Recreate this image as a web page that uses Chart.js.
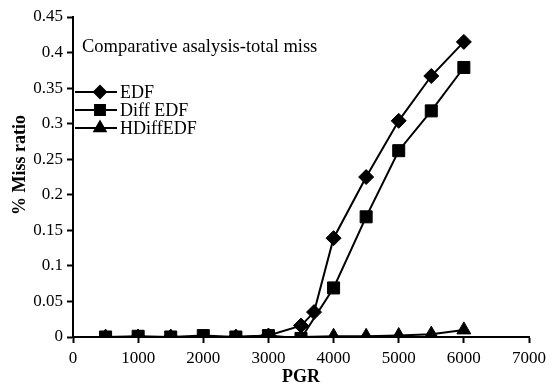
<!DOCTYPE html>
<html>
<head>
<meta charset="utf-8">
<script src="https://cdn.jsdelivr.net/npm/chart.js@4.4.0/dist/chart.umd.min.js"></script>
<style>
  html, body { margin: 0; padding: 0; background: #fff; }
  #wrap { width: 556px; height: 388px; position: relative; }
</style>
</head>
<body>
<div id="wrap"><canvas id="missChart"></canvas></div>
<script>
// values
const chartTitle = 'Comparative asalysis-total miss';
const seriesNames = ['EDF', 'Diff EDF', 'HDiffEDF'];
const xTitle = 'PGR';
const yTitle = '% Miss ratio';

const edfX = [500, 1000, 1500, 2000, 2500, 3000, 3500, 3700, 4000, 4500, 5000, 5500, 6000];
const edfY = [0, 0, 0, 0, 0, 0.002, 0.016, 0.035, 0.139, 0.225, 0.304, 0.367, 0.415];

const diffX = [500, 1000, 1500, 2000, 2500, 3000, 3500, 4000, 4500, 5000, 5500, 6000];
const diffY = [0, 0.001, 0, 0.002, 0, 0.002, -0.002, 0.069, 0.169, 0.262, 0.318, 0.379];

const hdiffX = [500, 1000, 1500, 2000, 2500, 3000, 3500, 4000, 4500, 5000, 5500, 6000];
const hdiffY = [0, 0, 0, 0, 0, 0, 0, 0.001, 0.001, 0.002, 0.004, 0.01];

const markerStyles = ['rectRot', 'rect', 'triangle'];
const markerSizes = [7.5, 8.5, 8];

const serif = '"Liberation Serif", "DejaVu Serif", serif';

function toPoints(xs, ys) {
    return xs.map((x, i) => ({ x: x, y: ys[i] }));
}

// title, legend and y title drawn by hand
const insideLegend = {
    id: 'insideLegend',
    afterDraw(chart) {
        const ctx = chart.ctx;
        const left = chart.chartArea.left;
        ctx.save();
        ctx.fillStyle = '#000';
        ctx.textBaseline = 'middle';
        ctx.textAlign = 'left';
        ctx.font = '18.5px ' + serif;
        ctx.fillText(chartTitle, left + 9, 47);

        ctx.font = '18px ' + serif;
        seriesNames.forEach((name, i) => {
            const y = 92 + i * 18;
            ctx.strokeStyle = '#000';
            ctx.lineWidth = 2;
            ctx.beginPath();
            ctx.moveTo(left + 2, y);
            ctx.lineTo(left + 44, y);
            ctx.stroke();
            Chart.helpers.drawPoint(ctx, {
                pointStyle: markerStyles[i],
                radius: markerSizes[i] - 1.5,
                borderWidth: 1
            }, left + 27, y);
            ctx.fill();
            ctx.fillText(name, left + 47, y + 1);
        });

        ctx.translate(20, 165);
        ctx.rotate(-Math.PI / 2);
        ctx.textAlign = 'center';
        ctx.font = 'bold 18px ' + serif;
        ctx.fillText(yTitle, 0, 0);
        ctx.restore();
    }
};

const ctx = document.getElementById('missChart');
new Chart(ctx, {
    type: 'line',
    data: {
        datasets: [
            { label: seriesNames[0], data: toPoints(edfX, edfY), order: 1 },
            { label: seriesNames[1], data: toPoints(diffX, diffY), order: 0 },
            { label: seriesNames[2], data: toPoints(hdiffX, hdiffY), order: 2 }
        ].map((d, i) => Object.assign(d, {
            borderColor: '#000',
            backgroundColor: '#000',
            borderWidth: 2,
            pointStyle: markerStyles[i],
            pointRadius: markerSizes[i],
            pointBorderWidth: 1,
            tension: 0
        }))
    },
    options: {
        responsive: true,
        maintainAspectRatio: false,
        animation: false,
        layout: { padding: { top: 17, right: 27, left: 0, bottom: 0 } },
        plugins: {
            legend: { display: false },
            tooltip: { enabled: false }
        },
        scales: {
            x: {
                type: 'linear',
                min: 0,
                max: 7000,
                ticks: {
                    stepSize: 1000,
                    color: '#000',
                    padding: 5,
                    font: { family: serif, size: 17 },
                    callback: v => String(v)
                },
                grid: { drawOnChartArea: false, tickLength: 6, tickWidth: 2, color: '#000' },
                border: { color: '#000', width: 2 },
                title: {
                    display: true,
                    text: xTitle,
                    color: '#000',
                    padding: { top: 0, bottom: 0 },
                    font: { family: serif, size: 18, weight: 'bold' }
                },
                afterFit(scale) { scale.height = 51; }
            },
            y: {
                min: 0,
                max: 0.45,
                ticks: {
                    stepSize: 0.05,
                    color: '#000',
                    padding: 4,
                    font: { family: serif, size: 17 },
                    callback: v => String(Math.round(v * 100) / 100)
                },
                grid: { drawOnChartArea: false, tickLength: 6, tickWidth: 2, color: '#000' },
                border: { color: '#000', width: 2 },
                afterFit(scale) { scale.width = 73; }
            }
        }
    },
    plugins: [insideLegend]
});
</script>
</body>
</html>
